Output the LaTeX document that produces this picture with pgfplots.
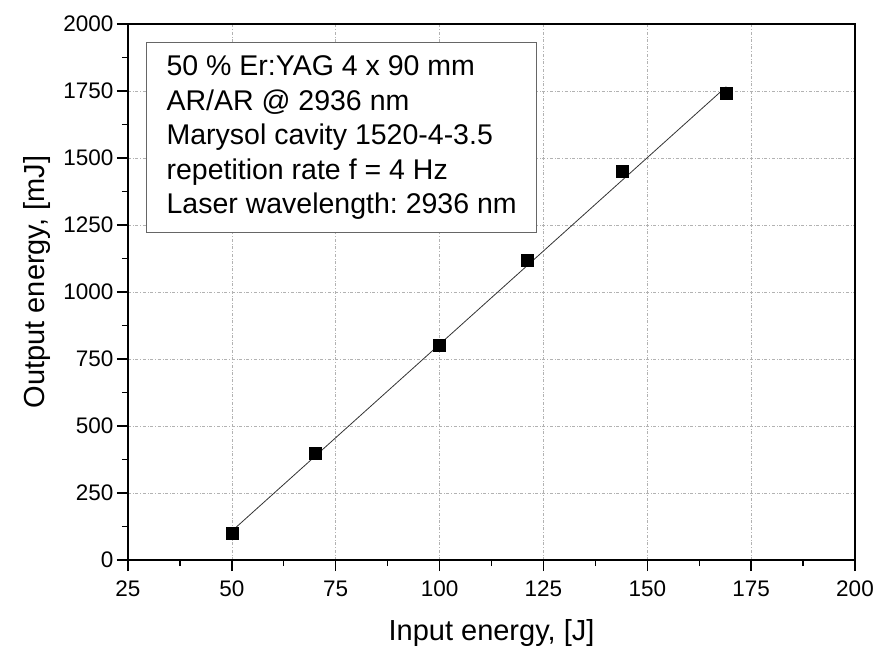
\documentclass[border=0pt]{standalone}
\usepackage{fontspec}
\setmainfont{Liberation Sans}
\usepackage{pgfplots}
\pgfplotsset{compat=1.18}
\usetikzlibrary{calc}
\frenchspacing

\begin{document}
\begin{tikzpicture}
\begin{axis}[
    name=ax,
    scale only axis,
    width=727pt, height=536pt,
    xmin=25, xmax=200, ymin=0, ymax=2000,
    xtick={25,50,...,200},
    ytick={0,250,...,2000},
    minor x tick num=1,
    minor y tick num=1,
    xtick pos=bottom, ytick pos=left,
    tick align=outside,
    major tick length=11pt,
    minor tick length=6pt,
    axis line style={line width=1.3pt},
    every tick/.style={line width=1.3pt, black},
    grid=major,
    major grid style={gray!60, dash dot, line width=0.6pt},
    /pgf/number format/assume math mode=true,
    /pgf/number format/1000 sep={},
    tick label style={font=\fontsize{22.5}{22.5}\selectfont},
    xticklabel style={yshift=-6pt},
    xlabel={Input energy, [J]},
    ylabel={Output energy, [mJ]},
    label style={font=\fontsize{29}{29}\selectfont},
    xlabel style={yshift=-16pt},
    ylabel style={yshift=6pt, xshift=10pt},
]
% linear fit
\addplot[black!80, line width=0.8pt, no marks] coordinates {
    (50,108) (169,1766)
};
% measured
\addplot[only marks, mark=square*, mark size=6pt, black] coordinates {
    (50,100) (70,400) (100,800) (121,1120) (144,1450) (169,1742)
};
\node[draw=black!60, line width=0.9pt, fill=white, anchor=north west,
      align=left, inner xsep=20pt, inner ysep=13pt,
      font=\fontsize{28.5}{34.5}\selectfont]
    at (rel axis cs:0.025,0.966) {%
    50 \% Er:YAG 4 x 90 mm\\
    AR/AR @ 2936 nm\\
    Marysol cavity 1520-4-3.5\\
    repetition rate f = 4 Hz\\
    Laser wavelength: 2936 nm};
\end{axis}
\path ($(ax.south west)+(-128pt,-87pt)$) rectangle ($(ax.north east)+(40pt,24pt)$);
\end{tikzpicture}
\end{document}
